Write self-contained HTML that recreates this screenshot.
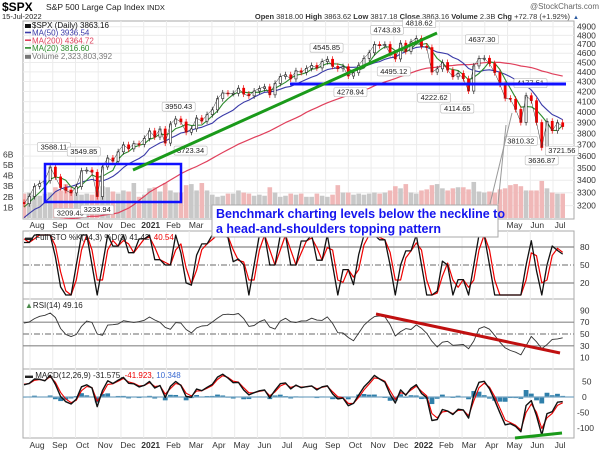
<!DOCTYPE html>
<html><head><meta charset="utf-8"><style>
html,body{margin:0;padding:0;background:#fff;}
svg{display:block;font-family:"Liberation Sans",sans-serif;}
</style></head><body>
<svg id="c" width="605" height="451" viewBox="0 0 605 451" xmlns="http://www.w3.org/2000/svg">
<defs>
<clipPath id="cp1"><rect x="23" y="21" width="551" height="198"/></clipPath>
<clipPath id="cp2"><rect x="23" y="231" width="551" height="68"/></clipPath>
<clipPath id="cp3"><rect x="23" y="299" width="551" height="70"/></clipPath>
<clipPath id="cp4"><rect x="23" y="369" width="551" height="69"/></clipPath>
</defs>
<rect x="0" y="0" width="605" height="451" fill="#fff"/>
<text x="2" y="11" font-size="12" font-weight="bold" fill="#000">$SPX</text>
<text x="46" y="10" font-size="8.5" fill="#222">S&amp;P 500 Large Cap Index <tspan font-size="7.5">INDX</tspan></text>
<text x="2" y="19" font-size="7.5" fill="#222">15-Jul-2022</text>
<text x="599" y="9" font-size="8" fill="#666" text-anchor="end">@StockCharts.com</text>
<text x="570" y="19" font-size="7.5" fill="#333" text-anchor="end"><tspan font-weight="bold">Open</tspan> 3818.00 <tspan font-weight="bold">High</tspan> 3863.62 <tspan font-weight="bold">Low</tspan> 3817.18 <tspan font-weight="bold">Close</tspan> 3863.16 <tspan font-weight="bold">Volume</tspan> 2.3B <tspan font-weight="bold">Chg</tspan> +72.78 (+1.92%)</text>
<text x="573" y="19" font-size="6" fill="#2a5aa0">▲</text>
<g id="panels"></g>
<g id="marks"></g>
<g id="annot"></g>
</svg>
<script>
// ---- data (weekly closes: 39 prior weeks + Jul 24 2020 .. Jul 15 2022) ----
const priorCloses=[3023,3067,3093,3120,3110,3141,3146,3169,3221,3240,3235,3265,3330,3295,3226,3328,3380,3338,2954,2972,2711,2305,2541,2489,2790,2875,2837,2831,2930,2864,2955,3044,3194,3041,3098,3009,3130,3185,3225];
const weeklyCloses=[3215,3271,3351,3373,3397,3508,3427,3341,3319,3298,3348,3477,3483,3465,3270,3509,3585,3557,3638,3699,3663,3709,3703,3756,
3824,3768,3841,3714,3887,3934,3906,3811,3842,3943,3913,3975,4020,4129,4185,4180,4181,4233,4174,4156,4204,4230,4247,4166,4281,4352,4370,4327,4412,4395,4437,4468,4442,4509,4535,4459,4433,4455,4357,4391,4471,4545,4605,4698,4683,4698,4595,4538,4712,4620,4726,4766,
4677,4663,4398,4432,4500,4419,4349,4385,4329,4204,4463,4543,4546,4488,4393,4272,4132,4123,4024,3901,4158,4109,3901,3675,3912,3825,3899,3863];
const weeklyVolumeB=[2.3,2.4,2.2,2.1,2.3,2.4,2.9,2.6,3.2,2.7,2.3,2.2,2.3,2.2,2.6,3.0,2.9,2.5,2.3,2.6,2.5,3.3,2.0,2.2,
2.8,2.9,2.5,3.3,2.6,2.4,2.4,3.1,3.2,2.6,3.3,2.6,2.2,2.0,2.1,2.3,2.3,2.6,2.4,2.3,2.1,2.2,2.1,2.9,2.4,2.0,2.1,2.3,2.2,2.3,2.0,2.0,2.3,2.1,2.0,2.2,3.1,2.4,2.4,2.2,2.3,2.2,2.3,2.4,2.3,2.4,2.6,3.0,2.8,3.2,2.4,2.3,
2.6,2.7,3.1,3.2,2.8,2.6,2.8,2.9,2.9,2.7,3.4,2.5,2.4,2.5,2.4,2.7,2.8,3.1,3.2,3.0,2.6,2.6,2.6,3.5,2.8,2.4,2.3,2.3];
const priceTicks=[3200,3300,3400,3500,3600,3700,3800,3900,4000,4100,4200,4300,4400,4500,4600,4700,4800,4900];
const volTicks=[1,2,3,4,5,6];
const monthLabels=["Aug","Sep","Oct","Nov","Dec","2021","Feb","Mar","Apr","May","Jun","Jul","Aug","Sep","Oct","Nov","Dec","2022","Feb","Mar","Apr","May","Jun","Jul"];
const stoTicks=[20,50,80];
const rsiTicks=[10,30,50,70,90];
const macdTicks=[-100,-50,0,50];
const labelDates=["2020-09-02","2020-10-12","2020-09-24","2020-10-30","2021-02-16","2021-03-04","2021-09-02","2021-10-04","2021-11-22","2021-12-01","2022-01-04","2022-01-24","2022-02-24","2022-03-29","2022-06-02","2022-05-20","2022-06-17","2022-07-14"];
const labelPrices=[3588.11,3549.85,3209.45,3233.94,3950.43,3723.34,4545.85,4278.94,4743.83,4495.12,4818.62,4222.62,4114.65,4637.30,4177.51,3810.32,3636.87,3721.56];
const labelAbove=[1,1,0,0,1,0,1,0,1,0,1,0,0,1,1,0,0,0];

const NS="http://www.w3.org/2000/svg";
const P=document.getElementById('panels'),M=document.getElementById('marks'),A=document.getElementById('annot');
function mk(tag,at,par){const e=document.createElementNS(NS,tag);for(const k in at)e.setAttribute(k,at[k]);(par||M).appendChild(e);return e;}
const closes=priorCloses.concat(weeklyCloses);
const S=priorCloses.length;
const L=23,R=574;
const xW=i=>24+5.23*(i-S);
const xDate=s=>{const d=(new Date(s+"T00:00:00Z")-new Date("2020-08-01T00:00:00Z"))/86400000;return 30+d*0.747;};
const yP=p=>26.7+420*Math.log(4900/p);
const yV=v=>218-v*10.6;
const yS=v=>295-v*0.6;
const yR=v=>334-(v-50)*0.59;
const yM=v=>397-v*0.31;

const panelBoxes=[[21,219,'price-panel'],[231,299,'stochastic-panel'],[299,369,'rsi-panel'],[369,438,'macd-panel']];
panelBoxes.forEach(b=>{const r=mk('rect',{x:L,y:b[0],width:R-L,height:b[1]-b[0],fill:'#fff',stroke:'#aaa','stroke-width':1},P);

});
monthLabels.forEach((m,k)=>{const x=30+k*22.74;
[[21,219],[231,438]].forEach(r=>{const g=mk('line',{x1:x,x2:x,y1:r[0],y2:r[1],stroke:'#ececec','stroke-width':1},P);

});
[225,445].forEach(yy=>{const t=mk('text',{x:x+7,y:yy+3,'font-size':8.5,'text-anchor':'middle',fill:'#333','font-weight':(m.length===4?'bold':'normal')},P);t.textContent=m;

});});
priceTicks.forEach(p=>{const y=yP(p);const g=mk('line',{x1:L,x2:R,y1:y,y2:y,stroke:'#ececec'},P);


const t=mk('text',{x:577,y:y+3,'font-size':8.5,fill:'#333'},P);t.textContent=p;

});
volTicks.forEach(v=>{const t=mk('text',{x:3,y:yV(v)+3,'font-size':8.5,fill:'#333'},P);t.textContent=v+'B';

});
function hline(y,dash,par,col){const g=mk('line',{x1:L,x2:R,y1:y,y2:y,stroke:col||'#888','stroke-width':1.2,'stroke-dasharray':dash||''},par||P);return g;}
stoTicks.forEach(v=>{const g=hline(yS(v),v===50?'6,2,1,2':'');


const t=mk('text',{x:580,y:yS(v)+3,'font-size':8.5,fill:'#333'},P);t.textContent=v;

});
rsiTicks.forEach(v=>{if(v>=30&&v<=70){const g=hline(yR(v),v===50?'6,2,1,2':'');

}
const t=mk('text',{x:580,y:yR(v)+3,'font-size':8.5,fill:'#333'},P);t.textContent=v;

});
macdTicks.forEach(v=>{const t=mk('text',{x:v<0?577:582,y:yM(v)+3,'font-size':8.5,fill:'#333'},P);t.textContent=v;

});

const gV=mk('g',{'clip-path':'url(#cp1)'});


weeklyVolumeB.forEach((v,j)=>{const i=S+j;const dn=closes[i]<closes[i-1];
const b=mk('rect',{x:xW(i)-2.3,y:yV(v),width:4.6,height:218-yV(v),fill:dn?'#f0b8b8':'#c8c8c8'},gV);

});

function sma(arr,n){return arr.map((_,i)=>{const a=arr.slice(Math.max(0,i-n+1),i+1);return a.reduce((s,v)=>s+v,0)/a.length;});}
const ma20=sma(closes,4),ma50=sma(closes,10),ma200=sma(closes,40);
function poly(vals,yf,col,w,clip,name,from){let d='';for(let i=from||S;i<vals.length;i++){d+=(i===(from||S)?'M':'L')+xW(i).toFixed(1)+','+yf(vals[i]).toFixed(1);}
const p=mk('path',{d:d,fill:'none',stroke:col,'stroke-width':w,'clip-path':clip,'stroke-linejoin':'round'});return p;}
poly(ma200,yP,'#e0405c',1.2,'url(#cp1)','ma200-line');
poly(ma50,yP,'#3a3aa8',1.1,'url(#cp1)','ma50-line');
poly(ma20,yP,'#2c8a2c',1.1,'url(#cp1)','ma20-line');
const gC=mk('g',{'clip-path':'url(#cp1)'});


for(let i=S;i<closes.length;i++){const o=closes[i-1],c=closes[i];const col=c>=o?'#222':'#e00';
const y1=yP(Math.max(o,c)),y2=yP(Math.min(o,c));
const w=mk('line',{x1:xW(i),x2:xW(i),y1:y1-3,y2:y2+3,stroke:col,'stroke-width':0.7},gC);


const b=mk('rect',{x:xW(i)-1.1,y:y1,width:2.2,height:Math.max(1,y2-y1),fill:c>=o?'#fff':'#e00',stroke:col,'stroke-width':0.6},gC);

}
poly(closes,yP,'#333',0.5,'url(#cp1)','close-line');

const raw=closes.map((c,i)=>{const a=closes.slice(Math.max(0,i-2),i+1);const lo=Math.min(...a),hi=Math.max(...a);return hi===lo?50:(c-lo)/(hi-lo)*100;});
const stoK=sma(raw,2),stoD=sma(stoK,2);
poly(stoD,yS,'#e00',1.2,'url(#cp2)','sto-d-line');
poly(stoK,yS,'#111',1.3,'url(#cp2)','sto-k-line');
const rsi=[];let ag=0,al=0;const n=5;
for(let i=0;i<closes.length;i++){if(i===0){rsi.push(50);continue;}const ch=closes[i]-closes[i-1];ag=(ag*(n-1)+Math.max(ch,0))/n;al=(al*(n-1)+Math.max(-ch,0))/n;rsi.push(al===0?100:100-100/(1+ag/al));}
const rsiS=sma(rsi,2);
poly(rsiS,yR,'#333',0.9,'url(#cp3)','rsi-line');
function ema(arr,span){const a=2/(span+1);const o=[];arr.forEach((v,i)=>o.push(i?o[i-1]+a*(v-o[i-1]):v));return o;}
const e12=ema(closes,2.4),e26=ema(closes,5.2);const macd=e12.map((v,i)=>v-e26[i]);const sig=ema(macd,1.8);
const gH=mk('g',{'clip-path':'url(#cp4)'});


for(let i=S;i<closes.length;i++){const h=macd[i]-sig[i];const y0=yM(0),y1=yM(h);
const b=mk('rect',{x:xW(i)-2.4,y:Math.min(y0,y1),width:4.8,height:Math.abs(y1-y0),fill:'#2f7faa'},gH);

}
const z=hline(yM(0),'',M,'#7aa8c4');


poly(sig,yM,'#e00',1.1,'url(#cp4)','macd-signal-line');
poly(macd,yM,'#111',1.4,'url(#cp4)','macd-line');

labelDates.forEach((d,k)=>{const x=xDate(d),p=labelPrices[k];const y=labelAbove[k]?yP(p)-9:yP(p)+10;const s=p.toFixed(2);const w=s.length*4.3+3;
const r=mk('rect',{x:x-w/2,y:y-6,width:w,height:9,fill:'#fff',stroke:'#bbb','stroke-width':0.6,rx:1.5},A);


const t=mk('text',{x:x,y:y+1,'font-size':7.5,'text-anchor':'middle',fill:'#222'},A);t.textContent=s;

});

const legItems=[["$SPX (Daily) 3863.16","#111"],["MA(50) 3936.54","#3a3aa8"],["MA(200) 4364.72","#e0405c"],["MA(20) 3816.60","#2c8a2c"],["Volume 2,323,803,392","#777"]];
legItems.forEach((it,k)=>{const y=25+k*7.7;
const sw=mk('rect',{x:25,y:y-1,width:6,height:k===0||k===4?4:1.6,fill:it[1]},A);


const t=mk('text',{x:32,y:y+3,'font-size':8,fill:it[1]},A);t.textContent=it[0];

});
</script>
<svg width="605" height="451" viewBox="0 0 605 451" style="position:absolute;left:0;top:0">
<rect x="45" y="164" width="136" height="38" fill="none" stroke="#1010ff" stroke-width="2.5"/>
<line x1="290" y1="84" x2="566" y2="84" stroke="#1010ff" stroke-width="3"/>
<line x1="133" y1="170" x2="437" y2="33" stroke="#1a9a1a" stroke-width="3"/>
<line x1="490" y1="204" x2="512" y2="113" stroke="#999" stroke-width="1"/>
<line x1="498" y1="204" x2="506" y2="125" stroke="#999" stroke-width="1"/>
<rect x="212" y="205" width="286" height="32" fill="#fff" stroke="#aaa" stroke-width="1"/>
<text x="216" y="218" font-size="12.5" font-weight="bold" fill="#1515ee" font-family="Liberation Sans, sans-serif">Benchmark charting levels below the neckline to</text>
<text x="216" y="233" font-size="12.5" font-weight="bold" fill="#1515ee" font-family="Liberation Sans, sans-serif">a head-and-shoulders topping pattern</text>
<text x="25" y="240" font-size="8" fill="#222" font-family="Liberation Sans, sans-serif">▬ Full STO %K(14,3) %D(3) 41.42, <tspan fill="#e00">40.54</tspan></text>
<text x="25" y="308" font-size="8" fill="#222" font-family="Liberation Sans, sans-serif"><tspan fill="#4a8a4a">▲</tspan>RSI(14) 49.16</text>
<text x="25" y="378" font-size="8" fill="#222" font-family="Liberation Sans, sans-serif">▬ MACD(12,26,9) -31.575, <tspan fill="#e00">-41.923</tspan>, <tspan fill="#3a6ad0">10.348</tspan></text>
<line x1="376" y1="314" x2="560" y2="353" stroke="#c01010" stroke-width="3"/>
<line x1="515" y1="438" x2="562" y2="433" stroke="#1a9a1a" stroke-width="3"/>
</svg>
</body></html>
